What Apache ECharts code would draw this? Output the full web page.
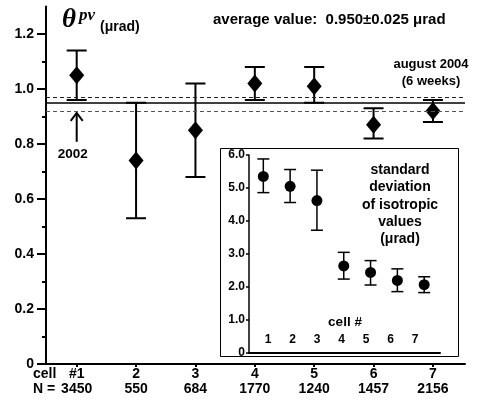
<!DOCTYPE html>
<html><head><meta charset="utf-8">
<script src="https://cdn.jsdelivr.net/npm/echarts@6/dist/echarts.min.js"></script>
<style>html,body{margin:0;padding:0;background:#fff}#c{width:480px;height:405px}</style>
</head><body><div id="c"></div>
<script>
// ---- data ----
const cells = [1, 2, 3, 4, 5, 6, 7];
const cellLabels = ['#1', '2', '3', '4', '5', '6', '7'];
const nValues = [3450, 550, 684, 1770, 1240, 1457, 2156];
const theta = [1.05, 0.74, 0.85, 1.02, 1.01, 0.87, 0.92];
const thetaHigh = [1.14, 0.95, 1.02, 1.08, 1.08, 0.93, 0.96];
const thetaLow = [0.96, 0.53, 0.68, 0.96, 0.95, 0.82, 0.88];
const avgValue = 0.95, avgError = 0.025;
const yTicks = [0, 0.2, 0.4, 0.6, 0.8, 1.0, 1.2];
const yMinorTicks = [0.1, 0.3, 0.5, 0.7, 0.9, 1.1];
const sdValues = [5.35, 5.05, 4.62, 2.64, 2.44, 2.20, 2.07];
const sdHigh = [5.88, 5.56, 5.54, 3.05, 2.80, 2.55, 2.31];
const sdLow = [4.86, 4.56, 3.72, 2.24, 2.06, 1.86, 1.83];
const arrowCell = 1, arrowFrom = 0.808, arrowTo = 0.913, arrowLabel = '2002';

const SANS = '"Liberation Sans", Arial, sans-serif';
const SERIF = '"Liberation Serif", "Times New Roman", serif';

function errRender(capHalf, lw) {
  return function (params, api) {
    const x = api.value(0), lo = api.value(1), hi = api.value(2);
    const pLo = api.coord([x, lo]), pHi = api.coord([x, hi]);
    const st = { stroke: '#000', lineWidth: lw };
    return { type: 'group', children: [
      { type: 'line', shape: { x1: pLo[0], y1: pLo[1], x2: pHi[0], y2: pHi[1] }, style: st },
      { type: 'line', shape: { x1: pLo[0] - capHalf, y1: pLo[1], x2: pLo[0] + capHalf, y2: pLo[1] }, style: st },
      { type: 'line', shape: { x1: pHi[0] - capHalf, y1: pHi[1], x2: pHi[0] + capHalf, y2: pHi[1] }, style: st }
    ]};
  };
}

const chart = echarts.init(document.getElementById('c'), null, { renderer: 'canvas' });
const option = {
  animation: false,
  backgroundColor: '#fff',
  grid: [
    { left: 46, right: 15, top: 6.5, bottom: 41 },
    { left: 249, right: 40, top: 155, bottom: 52 }
  ],
  xAxis: [
    { gridIndex: 0, type: 'value', min: 0.483, max: 7.54,
      axisLine: { show: true, lineStyle: { color: '#000', width: 2 } },
      axisTick: { show: true, customValues: cells, length: 3, lineStyle: { color: '#000', width: 2 } },
      axisLabel: { customValues: cells, margin: 3, color: '#000', fontSize: 14, fontWeight: 'bold', fontFamily: SANS, lineHeight: 15,
        formatter: v => { const i = cells.indexOf(Math.round(v)); return cellLabels[i] + '\n' + nValues[i]; } },
      splitLine: { show: false } },
    { gridIndex: 1, type: 'value', min: 0.466, max: 7.59, show: false },
    { gridIndex: 1, type: 'value', min: 0.224, max: 8.02, position: 'bottom',
      axisLine: { show: true, lineStyle: { color: '#000', width: 2 } },
      axisTick: { show: false },
      axisLabel: { customValues: cells, inside: true, margin: 7, color: '#000', fontSize: 12, fontWeight: 'bold', fontFamily: SANS },
      splitLine: { show: false } }
  ],
  yAxis: [
    { gridIndex: 0, type: 'value', min: 0, max: 1.3,
      axisLine: { show: true, lineStyle: { color: '#000', width: 2 } },
      axisTick: { show: true, customValues: yTicks, length: 9, lineStyle: { color: '#000', width: 2 } },
      axisLabel: { customValues: yTicks, margin: 12, color: '#000', fontSize: 14, fontWeight: 'bold', fontFamily: SANS,
        formatter: v => v === 0 ? '0' : v.toFixed(1) },
      splitLine: { show: false } },
    { gridIndex: 0, type: 'value', min: 0, max: 1.3, position: 'left',
      axisLine: { show: false },
      axisTick: { show: true, customValues: yMinorTicks, length: 4, lineStyle: { color: '#000', width: 2 } },
      axisLabel: { show: false }, splitLine: { show: false } },
    { gridIndex: 1, type: 'value', min: 0, max: 6, interval: 1,
      axisLine: { show: true, lineStyle: { color: '#000', width: 1.5 } },
      axisTick: { show: true, length: 3, lineStyle: { color: '#000', width: 1.5 } },
      axisLabel: { margin: 4, color: '#000', fontSize: 12, fontWeight: 'bold', fontFamily: SANS,
        formatter: v => v === 0 ? '0' : v.toFixed(1) },
      splitLine: { show: false } }
  ],
  series: [
    { type: 'custom', xAxisIndex: 0, yAxisIndex: 0, z: 2, silent: true,
      renderItem: errRender(10, 2), encode: { x: 0, y: [1, 2] },
      data: cells.map((c, i) => [c, thetaLow[i], thetaHigh[i]]) },
    { type: 'scatter', xAxisIndex: 0, yAxisIndex: 0, z: 3, silent: true,
      symbol: 'diamond', symbolSize: [15, 18], itemStyle: { color: '#000', opacity: 1 },
      data: cells.map((c, i) => [c, theta[i]]),
      markLine: { silent: true, symbol: 'none', label: { show: false },
        data: [
          { yAxis: avgValue, lineStyle: { type: 'solid', width: 1.5, color: '#000' } },
          { yAxis: avgValue + avgError, lineStyle: { type: [4, 3], width: 1, color: '#222' } },
          { yAxis: avgValue - avgError, lineStyle: { type: [4, 3], width: 1, color: '#555' } }
        ] } },
    { type: 'custom', xAxisIndex: 0, yAxisIndex: 0, z: 3, silent: true,
      encode: { x: 0, y: [1, 2] },
      data: [[arrowCell, arrowFrom, arrowTo]],
      renderItem: (params, api) => {
        const b = api.coord([api.value(0), api.value(1)]);
        const t = api.coord([api.value(0), api.value(2)]);
        return { type: 'group', children: [
          { type: 'line', shape: { x1: b[0], y1: b[1], x2: t[0], y2: t[1] }, style: { stroke: '#000', lineWidth: 2 } },
          { type: 'polyline', shape: { points: [[t[0] - 6, t[1] + 8], [t[0], t[1]], [t[0] + 6, t[1] + 8]] },
            style: { stroke: '#000', lineWidth: 2, fill: 'none' } },
          { type: 'text', style: { text: arrowLabel, x: b[0] - 4, y: b[1] + 12, align: 'center', verticalAlign: 'middle',
            font: 'bold 13.5px ' + SANS, fill: '#000' } }
        ]};
      } },
    { type: 'custom', xAxisIndex: 1, yAxisIndex: 2, z: 4, silent: true,
      renderItem: errRender(6, 1.5), encode: { x: 0, y: [1, 2] },
      data: cells.map((c, i) => [c, sdLow[i], sdHigh[i]]) },
    { type: 'scatter', xAxisIndex: 1, yAxisIndex: 2, z: 5, silent: true,
      symbol: 'circle', symbolSize: 11, itemStyle: { color: '#000', opacity: 1 },
      data: cells.map((c, i) => [c, sdValues[i]]) }
  ],
  graphic: [
    { type: 'rect', z: -1, shape: { x: 220.5, y: 148.5, width: 238, height: 208 },
      style: { fill: '#fff', stroke: '#000', lineWidth: 1 } },
    { type: 'text', x: 62, y: 20, style: { text: 'θ', font: 'italic bold 27px ' + SERIF, fill: '#000', verticalAlign: 'middle' } },
    { type: 'text', x: 79, y: 16, style: { text: 'pv', font: 'italic bold 17px ' + SERIF, fill: '#000', verticalAlign: 'middle' } },
    { type: 'text', x: 100, y: 27, style: { text: '(μrad)', font: 'bold 14px ' + SANS, fill: '#000', verticalAlign: 'middle' } },
    { type: 'text', x: 213, y: 20, style: { text: 'average value:  0.950±0.025 μrad', font: 'bold 15px ' + SANS, fill: '#000', verticalAlign: 'middle' } },
    { type: 'text', x: 431, y: 64, style: { text: 'august 2004', font: 'bold 13px ' + SANS, fill: '#000', align: 'center', verticalAlign: 'middle' } },
    { type: 'text', x: 431, y: 81, style: { text: '(6 weeks)', font: 'bold 13px ' + SANS, fill: '#000', align: 'center', verticalAlign: 'middle' } },
    { type: 'text', x: 400, y: 161.5, style: { text: 'standard\ndeviation\nof isotropic\nvalues\n(μrad)', font: 'bold 14px ' + SANS,
      lineHeight: 17.3, fill: '#000', align: 'center', verticalAlign: 'top' } },
    { type: 'text', x: 345, y: 322.7, style: { text: 'cell #', font: 'bold 13.5px ' + SANS, fill: '#000', align: 'center', verticalAlign: 'middle' } },
    { type: 'text', x: 33, y: 374, style: { text: 'cell', font: 'bold 14px ' + SANS, fill: '#000', verticalAlign: 'middle' } },
    { type: 'text', x: 33, y: 389, style: { text: 'N =', font: 'bold 14px ' + SANS, fill: '#000', verticalAlign: 'middle' } }
  ]
};
chart.setOption(option);
</script>
</body></html>
